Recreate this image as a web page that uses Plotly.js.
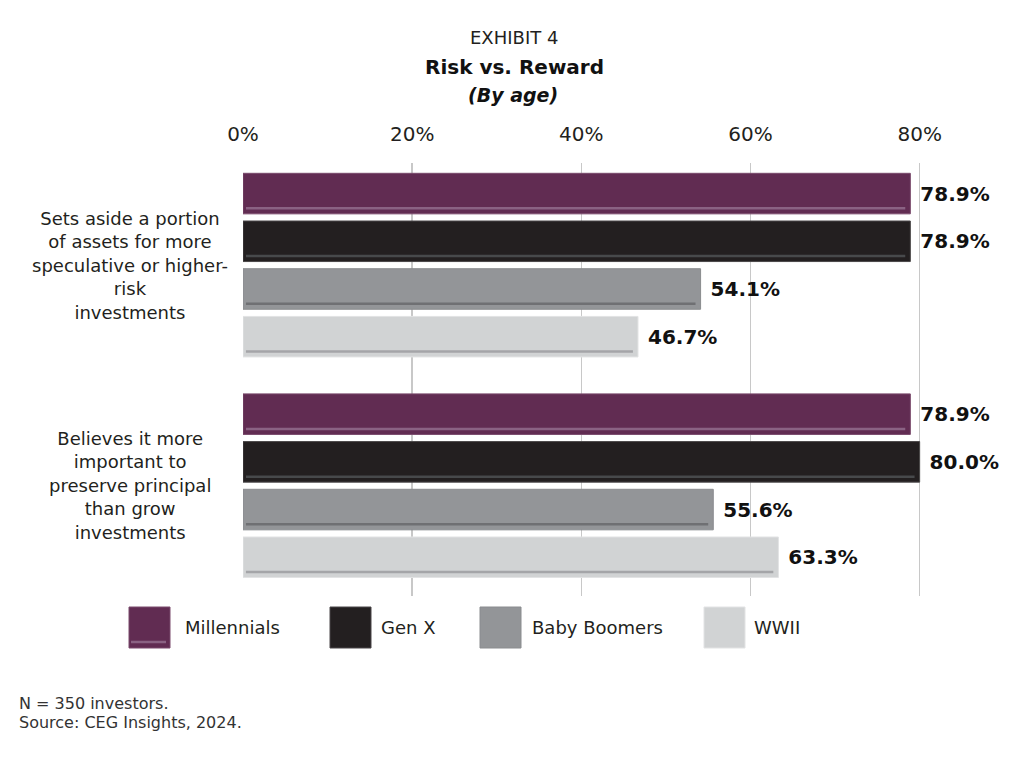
<!DOCTYPE html>
<html>
<head>
<meta charset="utf-8">
<script src="https://cdn.plot.ly/plotly-3.0.1.min.js"></script>
<style>
  html, body { margin: 0; padding: 0; background: #ffffff; }
  #chart { width: 1024px; height: 779px; }
</style>
</head>
<body>
<div id="chart"></div>
<script>
// ---- data ----
const categories = [
  "Sets aside a portion of assets for more speculative or higher-risk investments",
  "Believes it more important to preserve principal than grow investments"
];
const categoryLabels = [
  "Sets aside a portion<br>of assets for more<br>speculative or higher-<br>risk<br>investments",
  "Believes it more<br>important to<br>preserve principal<br>than grow<br>investments"
];
const seriesNames = ["Millennials", "Gen X", "Baby Boomers", "WWII"];
const millennials = [78.9, 78.9];
const genX = [78.9, 80.0];
const babyBoomers = [54.1, 55.6];
const wwii = [46.7, 63.3];
const tickValues = [0, 20, 40, 60, 80];
const tickLabels = ["0%", "20%", "40%", "60%", "80%"];

// ---- styles ----
const seriesValues = [millennials, genX, babyBoomers, wwii];
const fillColors = ["#612c52", "#231f20", "#939598", "#d1d3d4"];
const edgeColors = ["#7a4a6c", "#4a4748", "#8a8c8f", "#e2e3e4"];
const stripeColors = ["#8a6283", "#47494b", "#6f7073", "#a4a5a8"];
const FONT = "DejaVu Sans, Verdana, sans-serif";
const TEXTC = "#231f20";

// layout geometry (pixels)
const W = 1024, H = 779;
const mL = 243, mR = 24, mT = 163, mB = 183;
const plotW = W - mL - mR, plotH = H - mT - mB;
const xMax = 89.5;
const yRange = [1.5, -0.463];
const unitPx = plotH / (yRange[0] - yRange[1]);
const bargap = 0.135, bargroupgap = 0.15;

const px = x => (x - mL) / plotW;
const py = y => (H - mB - y) / plotH;

const traces = seriesValues.map((vals, i) => ({
  type: "bar",
  orientation: "h",
  name: seriesNames[i],
  y: categories,
  x: vals,
  marker: { color: fillColors[i], line: { color: edgeColors[i], width: 1 } },
  texttemplate: "\u00a0%{x:.1f}%",
  textposition: "outside",
  cliponaxis: false,
  textfont: { family: FONT, size: 20, color: "#111111", weight: "bold" },
  hoverinfo: "skip",
  showlegend: false
}));

// subtle inner stripe near the bottom of each bar, derived from the data
const shapes = [];
const groupW = 1 - bargap;
const slot = groupW / seriesValues.length;
const bw = slot * (1 - bargroupgap);
seriesValues.forEach((vals, i) => {
  vals.forEach((v, c) => {
    const center = c - groupW / 2 + slot * (i + 0.5);
    const yLine = center + bw / 2 - 5.5 / unitPx;
    shapes.push({
      type: "line", xref: "x", yref: "y",
      x0: 0.35, x1: v - 0.6, y0: yLine, y1: yLine,
      line: { color: stripeColors[i], width: 2.5 }, layer: "above"
    });
  });
});

// custom legend (large swatches)
const legendX = [129, 330, 480, 704];
const legendTextX = [183, 379, 530, 752];
const legY0 = 607, legY1 = 648;
const annotations = [];
seriesNames.forEach((n, i) => {
  shapes.push({
    type: "rect", xref: "paper", yref: "paper",
    x0: px(legendX[i]), x1: px(legendX[i] + 41),
    y0: py(legY1), y1: py(legY0),
    fillcolor: fillColors[i], line: { color: edgeColors[i], width: 1 }
  });
  if (i === 0) {
    shapes.push({
      type: "line", xref: "paper", yref: "paper",
      x0: px(legendX[i] + 2), x1: px(legendX[i] + 37),
      y0: py(legY1 - 6), y1: py(legY1 - 6),
      line: { color: stripeColors[i], width: 2.5 }
    });
  }
  annotations.push({
    xref: "paper", yref: "paper", x: px(legendTextX[i]), y: py(627),
    xanchor: "left", yanchor: "middle", showarrow: false,
    text: n, font: { family: FONT, size: 18, color: TEXTC }
  });
});

// category labels (centered, multi-line)
categories.forEach((c, i) => {
  annotations.push({
    xref: "paper", yref: "y", x: px(130), y: c,
    xanchor: "center", yanchor: "middle", showarrow: false, align: "center",
    text: categoryLabels[i],
    font: { family: FONT, size: 18, color: TEXTC }
  });
});

// titles
annotations.push({
  xref: "paper", yref: "paper", x: px(514), y: py(37),
  xanchor: "center", yanchor: "middle", showarrow: false,
  text: "EXHIBIT 4", font: { family: FONT, size: 18, color: TEXTC }
});
annotations.push({
  xref: "paper", yref: "paper", x: px(514), y: py(67),
  xanchor: "center", yanchor: "middle", showarrow: false,
  text: "<b>Risk vs. Reward</b>", font: { family: FONT, size: 20, color: "#111111" }
});
annotations.push({
  xref: "paper", yref: "paper", x: px(513), y: py(95),
  xanchor: "center", yanchor: "middle", showarrow: false,
  text: "<b><i>(By age)</i></b>", font: { family: FONT, size: 19, color: "#111111" }
});

// footer
annotations.push({
  xref: "paper", yref: "paper", x: px(17), y: py(703),
  xanchor: "left", yanchor: "middle", showarrow: false,
  text: "N = 350 investors.", font: { family: FONT, size: 16, color: "#333333" }
});
annotations.push({
  xref: "paper", yref: "paper", x: px(17), y: py(722),
  xanchor: "left", yanchor: "middle", showarrow: false,
  text: "Source: CEG Insights, 2024.", font: { family: FONT, size: 16, color: "#333333" }
});

const layout = {
  width: W, height: H,
  margin: { l: mL, r: mR, t: mT, b: mB, pad: 0 },
  paper_bgcolor: "#ffffff", plot_bgcolor: "#ffffff",
  barmode: "group",
  bargap: bargap, bargroupgap: bargroupgap,
  showlegend: false,
  font: { family: FONT, color: TEXTC },
  xaxis: {
    side: "top", range: [0, xMax],
    tickvals: tickValues, ticktext: tickLabels,
    tickfont: { family: FONT, size: 20, color: TEXTC },
    showgrid: true, gridcolor: "#c8c8c8", gridwidth: 1.5,
    zeroline: false, showline: false, ticks: "",
    ticklabelstandoff: 17, fixedrange: true
  },
  yaxis: {
    type: "category", range: yRange,
    showticklabels: false, showgrid: false, zeroline: false, showline: false,
    ticks: "", fixedrange: true
  },
  shapes: shapes,
  annotations: annotations
};

Plotly.newPlot("chart", traces, layout, { displayModeBar: false, staticPlot: true });
</script>
</body>
</html>
